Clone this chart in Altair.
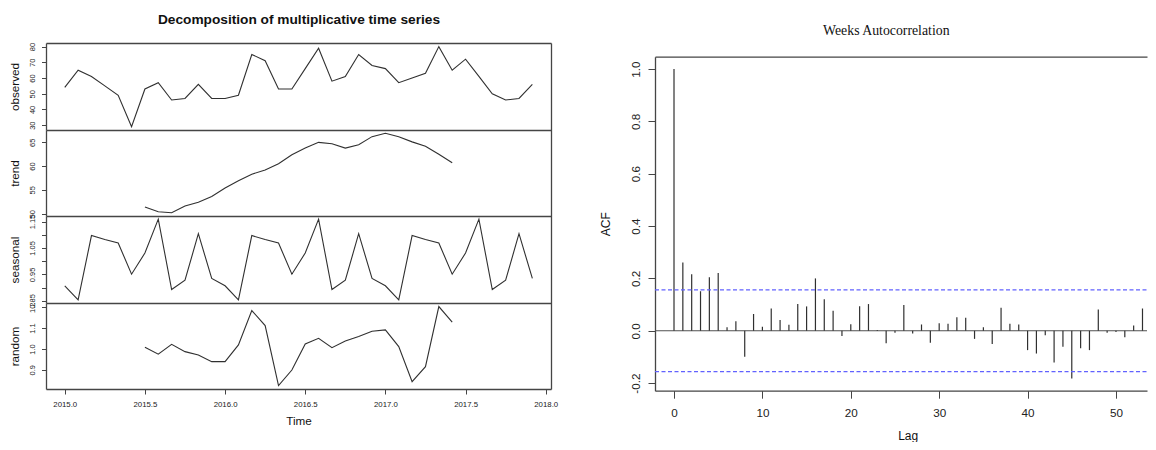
import altair as alt
import pandas as pd

# ---------------- data ----------------
START = 2015.0
FREQUENCY = 12
OBSERVED = [54, 65, 61, 55, 49, 29, 53, 57, 46, 47, 56, 47,
            47, 49, 75, 71, 53, 53, 66, 79, 58, 61, 75, 68,
            66, 57, 60, 63, 80, 65, 72, 61, 50, 46, 47, 56]
TREND_OFFSET = 6
TREND = [51.4, 50.4, 50.2, 51.6, 52.4, 53.6, 55.4, 56.9, 58.3, 59.2, 60.5, 62.4,
         63.8, 65.0, 64.7, 63.8, 64.5, 66.2, 66.9, 66.2, 65.1, 64.2, 62.5, 60.7]
SEASONAL = [0.907, 0.854, 1.097, 1.082, 1.069, 0.951, 1.031, 1.159, 0.893, 0.928, 1.104, 0.935,
            0.907, 0.854, 1.097, 1.082, 1.069, 0.951, 1.031, 1.159, 0.893, 0.928, 1.104, 0.935,
            0.907, 0.854, 1.097, 1.082, 1.069, 0.951, 1.031, 1.159, 0.893, 0.928, 1.104, 0.935]
RANDOM = [1.008, 0.975, 1.022, 0.987, 0.971, 0.939, 0.939, 1.019, 1.184, 1.112, 0.824, 0.899,
          1.024, 1.051, 1.006, 1.038, 1.059, 1.085, 1.091, 1.011, 0.843, 0.915, 1.203, 1.128]
LAGS = list(range(54))
ACF = [1.0, 0.261, 0.216, 0.151, 0.204, 0.221, 0.013, 0.036, -0.099, 0.064,
       0.015, 0.085, 0.041, 0.023, 0.102, 0.093, 0.200, 0.120, 0.076, -0.020,
       0.025, 0.094, 0.102, 0.003, -0.048, -0.008, 0.098, -0.010, 0.024, -0.046,
       0.029, 0.027, 0.052, 0.050, -0.031, 0.013, -0.051, 0.088, 0.027, 0.024,
       -0.074, -0.087, -0.017, -0.121, -0.061, -0.182, -0.067, -0.074, 0.081, -0.008,
       -0.005, -0.025, 0.020, 0.085]
CI_LEVELS = [0.156, -0.156]
ZERO_LEVEL = [0.0]

# tick values / labels
OBS_TICKS = [30, 40, 50, 60, 70, 80]
TREND_TICKS = [50, 55, 60, 65]
SEAS_TICKS = [0.85, 0.90, 0.95, 1.00, 1.05, 1.10, 1.15]
RAND_TICKS = [0.9, 1.0, 1.1, 1.2]
TIME_TICKS = [2015.0, 2015.5, 2016.0, 2016.5, 2017.0, 2017.5, 2018.0]
ACF_TICKS = [-0.2, 0.0, 0.2, 0.4, 0.6, 0.8, 1.0]
LAG_TICKS = [0, 10, 20, 30, 40, 50]

# ---------------- tables ----------------
times = [START + i / FREQUENCY for i in range(len(OBSERVED))]
obs_df = pd.DataFrame({"time": times, "value": OBSERVED})
trend_df = pd.DataFrame({"time": times[TREND_OFFSET:TREND_OFFSET + len(TREND)], "value": TREND})
seas_df = pd.DataFrame({"time": times, "value": SEASONAL})
rand_df = pd.DataFrame({"time": times[TREND_OFFSET:TREND_OFFSET + len(RANDOM)], "value": RANDOM})
acf_df = pd.DataFrame({"lag": LAGS, "acf": ACF})
ci_df = pd.DataFrame({"level": CI_LEVELS})
zero_df = pd.DataFrame({"level": ZERO_LEVEL})

# ---------------- layout (pixels inside the view) ----------------
W, H = 1101, 346
LEFT_RANGE = [0, 505]
OBS_RANGE, TREND_RANGE, SEAS_RANGE, RAND_RANGE = [87, 0], [173, 87], [260, 173], [346, 260]
TIME_DOMAIN = [2014.883, 2018.033]
OBS_DOMAIN, TREND_DOMAIN = [26.9, 82.3], [49.5, 67.6]
SEAS_DOMAIN, RAND_DOMAIN = [0.842, 1.171], [0.808, 1.220]
ACF_X_RANGE = [609, 1101]
ACF_Y_RANGE = [347.7, 13.7]
LAG_DOMAIN = [-2.15, 53.51]
ACF_DOMAIN = [-0.229, 1.047]

SANS = "Liberation Sans"
SERIF = "Liberation Serif"
LINE = "#303030"
FRAME = "#454545"


def sc(domain, rng):
    return alt.Scale(domain=domain, range=rng, nice=False, zero=False)


def frame_x(orient, offset, **kw):
    base = dict(orient=orient, offset=offset, labels=False, ticks=False, grid=False,
                domain=True, domainColor=FRAME, domainWidth=1.3, title=None)
    base.update(kw)
    return alt.Axis(**base)


def left_y(title, values, fmt, label_expr=None):
    kw = dict(orient="left", values=values, format=fmt, title=title, grid=False,
              labelAngle=270, labelAlign="center", labelBaseline="bottom",
              labelPadding=5, tickSize=4.5, labelFontSize=7.5, labelFont=SANS,
              titleFontSize=11.7, titleFontWeight="normal", titleFont=SANS,
              titlePadding=8.3, minExtent=17, maxExtent=17,
              labelOverlap=False, labelFlush=False,
              domainColor=FRAME, domainWidth=1.3, tickColor=FRAME)
    if label_expr:
        kw["labelExpr"] = label_expr
    return alt.Axis(**kw)


def panel(df, ydomain, yrange, yaxis, xaxis, opacity=1.0):
    return alt.Chart(df).mark_line(color=LINE, strokeWidth=1.1, opacity=opacity).encode(
        x=alt.X("time:Q", scale=sc(TIME_DOMAIN, LEFT_RANGE), axis=xaxis),
        y=alt.Y("value:Q", scale=sc(ydomain, yrange), axis=yaxis),
    )


obs_layer = panel(
    obs_df, OBS_DOMAIN, OBS_RANGE, left_y("observed", OBS_TICKS, "d"),
    frame_x("top", 0, title="Decomposition of multiplicative time series",
            titleFont=SANS, titleFontSize=13.7, titleFontWeight="bold", titleColor="#111",
            titleX=252.5, titleY=-20, titleAlign="center", titleBaseline="alphabetic"))
trend_layer = panel(trend_df, TREND_DOMAIN, TREND_RANGE,
                    left_y("trend", TREND_TICKS, "d"), frame_x("top", -87))
seas_layer = panel(
    seas_df, SEAS_DOMAIN, SEAS_RANGE,
    left_y("seasonal", SEAS_TICKS, ".2f",
           "abs(round(datum.value*100) % 10) == 5 ? format(datum.value, '.2f') : ''"),
    frame_x("top", -173))
rand_layer = panel(
    rand_df, RAND_DOMAIN, RAND_RANGE, left_y("random", RAND_TICKS, ".1f"),
    alt.Axis(orient="bottom", values=TIME_TICKS, format=".1f", grid=False,
             tickSize=5, labelPadding=6, labelFontSize=7.8, labelFont=SANS,
             labelOverlap=False, labelFlush=False,
             domainColor=FRAME, domainWidth=1.3, tickColor=FRAME,
             title="Time", titleFont=SANS, titleFontSize=11.7, titleFontWeight="normal",
             titleX=252.5, titleY=35, titleAlign="center", titleBaseline="alphabetic"))
# invisible copy that carries the right border and the random panel's top border
border_layer = panel(
    rand_df, RAND_DOMAIN, [346, 0],
    alt.Axis(orient="right", offset=-(W - LEFT_RANGE[1]), labels=False, ticks=False,
             grid=False, domain=True, domainColor=FRAME, domainWidth=1.3, title=None),
    frame_x("top", -260), opacity=0.0)

acf_x = sc(LAG_DOMAIN, ACF_X_RANGE)
acf_y = sc(ACF_DOMAIN, ACF_Y_RANGE)

acf_bars = alt.Chart(acf_df).mark_rule(color=LINE, strokeWidth=1.2).encode(
    x=alt.X("lag:Q", scale=acf_x,
            axis=alt.Axis(orient="bottom", offset=1.7, values=LAG_TICKS, format="d",
                          grid=False, tickSize=7.5, labelPadding=9, labelFontSize=11.7,
                          labelFont=SANS, labelOverlap=False, labelFlush=False,
                          domainColor=FRAME, domainWidth=1.3, tickColor=FRAME,
                          title="Lag", titleFont=SANS, titleFontSize=12,
                          titleFontWeight="normal", titleX=861.7, titleY=48.5,
                          titleAlign="center", titleBaseline="alphabetic")),
    y=alt.Y("acf:Q", scale=acf_y,
            axis=alt.Axis(orient="left", offset=-ACF_X_RANGE[0], values=ACF_TICKS,
                          format=".1f",
                          labelExpr="replace(format(datum.value, '.1f'), '\u2212', '-')",
                          grid=False, labelAngle=270, labelAlign="center",
                          labelBaseline="bottom", tickSize=7, labelPadding=6.5,
                          labelFontSize=11.7, labelFont=SANS, labelOverlap=False,
                          labelFlush=False, minExtent=28, maxExtent=28,
                          domainColor=FRAME, domainWidth=1.3, tickColor=FRAME,
                          title="ACF", titleFont=SANS, titleFontSize=12,
                          titleFontWeight="normal", titlePadding=14.5)),
    y2=alt.Y2Datum(0),
)

ci_lines = alt.Chart(ci_df).mark_rule(color="#6262ff", strokeWidth=1.3, strokeDash=[4, 2.5]).encode(
    x=alt.XDatum(LAG_DOMAIN[0], type="quantitative", scale=acf_x,
                 axis=frame_x("top", -ACF_Y_RANGE[1], title="Weeks Autocorrelation",
                              titleFont=SERIF, titleFontSize=13.8, titleFontWeight="normal",
                              titleColor="#111", titleX=839.8, titleY=-22,
                              titleAlign="center", titleBaseline="alphabetic")),
    x2=alt.X2Datum(LAG_DOMAIN[1]),
    y=alt.Y("level:Q", scale=acf_y, axis=None),
)

zero_line = alt.Chart(zero_df).mark_rule(color="#505050", strokeWidth=1.2).encode(
    x=alt.XDatum(LAG_DOMAIN[0], type="quantitative", scale=acf_x, axis=None),
    x2=alt.X2Datum(LAG_DOMAIN[1]),
    y=alt.Y("level:Q", scale=acf_y, axis=None),
)

chart = (
    alt.layer(obs_layer, trend_layer, seas_layer, rand_layer, border_layer,
              zero_line, acf_bars, ci_lines)
    .resolve_scale(x="independent", y="independent")
    .resolve_axis(x="independent", y="independent")
    .properties(
        width=W, height=H,
        autosize=alt.AutoSizeParams(type="none"),
        padding={"left": 38, "top": 35, "right": 1, "bottom": 53},
        background="white",
    )
    .configure_view(strokeWidth=0)
    .configure_axis(labelColor="#222222", titleColor="#111111")
)

chart.save("out.html", embed_options={"renderer": "svg", "actions": False})
